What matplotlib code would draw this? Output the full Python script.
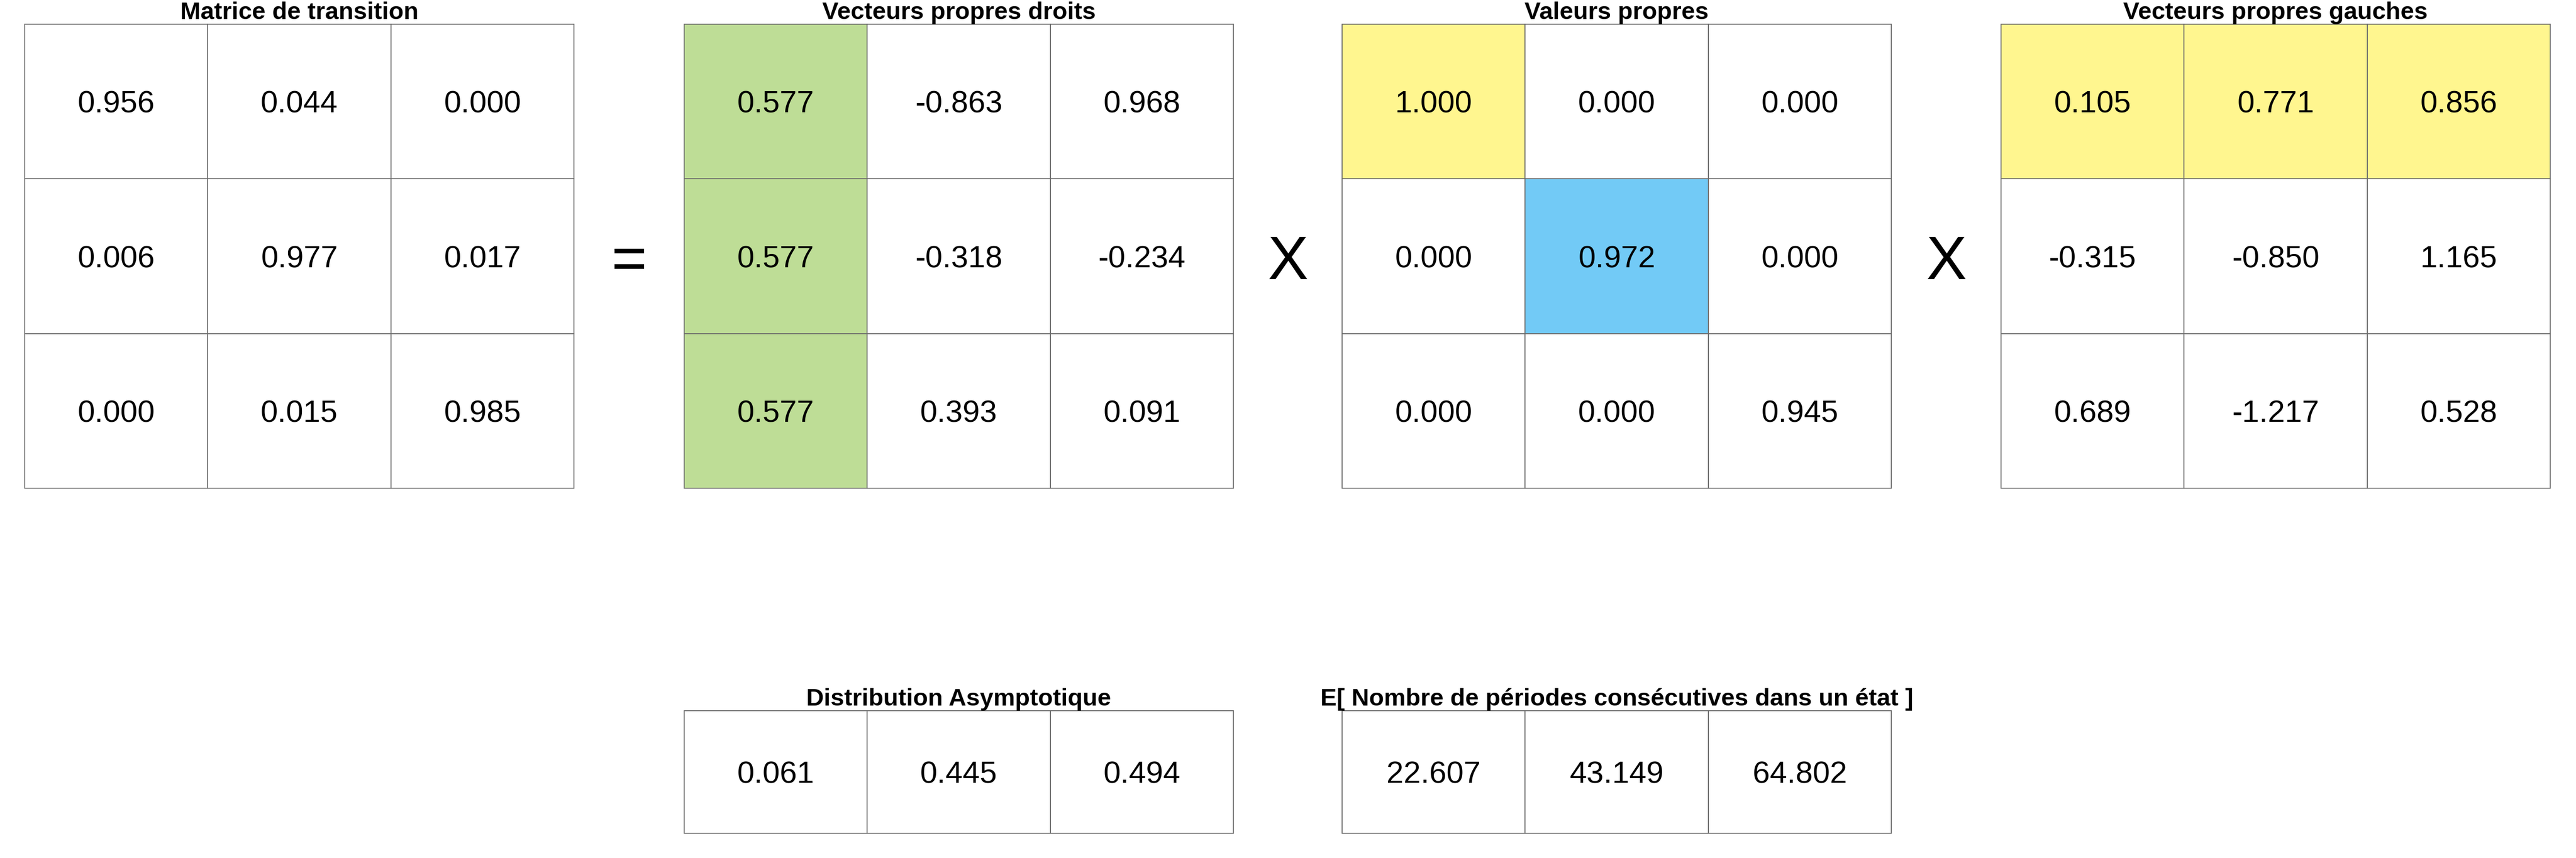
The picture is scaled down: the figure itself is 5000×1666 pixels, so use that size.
import numpy as np
import matplotlib.pyplot as plt

plt.rcParams['font.family'] = ['Liberation Sans', 'DejaVu Sans']

# matrices
transition = [[0.956, 0.044, 0.000],
              [0.006, 0.977, 0.017],
              [0.000, 0.015, 0.985]]
right_vectors = [[0.577, -0.863, 0.968],
                 [0.577, -0.318, -0.234],
                 [0.577, 0.393, 0.091]]
eigenvalues = [[1.000, 0.000, 0.000],
               [0.000, 0.972, 0.000],
               [0.000, 0.000, 0.945]]
left_vectors = [[0.105, 0.771, 0.856],
                [-0.315, -0.850, 1.165],
                [0.689, -1.217, 0.528]]
asymptotic = [[0.061, 0.445, 0.494]]
durations = [[22.607, 43.149, 64.802]]

titles_top = ['Matrice de transition', 'Vecteurs propres droits',
              'Valeurs propres', 'Vecteurs propres gauches']
titles_bottom = ['Distribution Asymptotique',
                 'E[ Nombre de périodes consécutives dans un état ]']

green = '#BEDD96'
yellow = '#FFF68F'
blue = '#72CAF6'

# cellules surlignées
highlights = [
    {},
    {(0, 0): green, (1, 0): green, (2, 0): green},
    {(0, 0): yellow, (1, 1): blue},
    {(0, 0): yellow, (0, 1): yellow, (0, 2): yellow},
]

W, H = 5000, 1666
fig = plt.figure(figsize=(W / 100, H / 100), dpi=100)


def draw_table(rect, values, title, colors=None, fontsize=43):
    ax = fig.add_axes(rect)
    ax.axis('off')
    values = np.asarray(values)
    text = [[f'{v:.3f}' for v in row] for row in values]
    cell_colours = [['white'] * values.shape[1] for _ in range(values.shape[0])]
    for (i, j), c in (colors or {}).items():
        cell_colours[i][j] = c
    tab = ax.table(cellText=text, cellColours=cell_colours,
                   cellLoc='center', bbox=[0, 0, 1, 1])
    tab.auto_set_font_size(False)
    tab.set_fontsize(fontsize)
    for cell in tab.get_celld().values():
        cell.set_edgecolor('#6b6b6b')
        cell.set_linewidth(1.3)
        cell.get_text().set_va('center_baseline')
    ax.set_title(title, fontsize=34, fontweight='bold', pad=4)
    return ax


lefts = [48, 1328, 2605, 3884]
tw = 1066
top_y, top_h = 47, 901
mats = [transition, right_vectors, eigenvalues, left_vectors]
for left, m, t, hl in zip(lefts, mats, titles_top, highlights):
    draw_table([left / W, 1 - (top_y + top_h) / H, tw / W, top_h / H], m, t, hl)

bot_y, bot_h = 1380, 238
for left, m, t in zip([1328, 2605], [asymptotic, durations], titles_bottom):
    draw_table([left / W, 1 - (bot_y + bot_h) / H, tw / W, bot_h / H], m, t)

# opérateurs entre les matrices
ops = ['=', 'X', 'X']
for k, op in enumerate(ops):
    xc = (lefts[k] + tw + lefts[k + 1]) / 2
    fig.text(xc / W, 1 - 542 / H, op, fontsize=85, ha='center', va='baseline')

fig.savefig('out.png', dpi=100)
